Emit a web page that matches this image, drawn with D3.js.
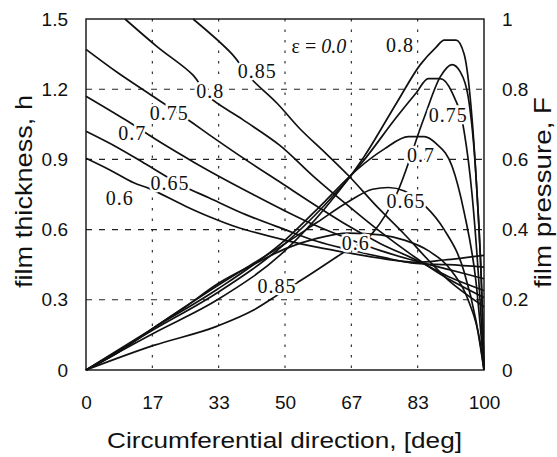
<!DOCTYPE html>
<html>
<head>
<meta charset="utf-8">
<script src="https://cdn.jsdelivr.net/npm/d3@7"></script>
<style>
  body { margin: 0; background: #fff; }
  svg { display: block; }
  .tick text { font-family: "Liberation Sans", Arial, sans-serif; font-size: 19px; fill: #111; }
  .ttl { font-family: "Liberation Sans", Arial, sans-serif; fill: #111; }
  .lbl { font-family: "Liberation Serif", "Times New Roman", serif; font-size: 20px; fill: #111;
         stroke: #fff; stroke-width: 5px; paint-order: stroke; letter-spacing: 1px; }
</style>
</head>
<body>
<svg id="chart" width="557" height="457"></svg>
<script>
// ---- data ----
var xTicks = [0, 100 / 6, 200 / 6, 50, 400 / 6, 500 / 6, 100];
var xTickLabels = ["0", "17", "33", "50", "67", "83", "100"];
var hTicks = [0, 0.3, 0.6, 0.9, 1.2, 1.5];
var fTicks = [0, 0.2, 0.4, 0.6, 0.8, 1];

// film thickness h vs circumferential direction
var thick06 = [[0, 0.905], [6, 0.855], [12, 0.80], [16, 0.775], [25, 0.70], [31, 0.655], [38, 0.61], [50, 0.555], [58, 0.525], [66, 0.50], [75, 0.475], [83, 0.46], [90, 0.47], [100, 0.49]];
var thick065 = [[0, 1.02], [8, 0.95], [15, 0.88], [24, 0.79], [31, 0.735], [40, 0.665], [50, 0.60], [58, 0.55], [66, 0.515], [75, 0.48], [83, 0.455], [91, 0.45], [100, 0.44]];
var thick07 = [[0, 1.17], [10, 1.068], [18.6, 0.974], [27.4, 0.885], [33.7, 0.825], [42, 0.75], [50, 0.68], [58, 0.615], [66, 0.56], [74, 0.51], [83, 0.465], [91, 0.43], [100, 0.39]];
var thick075 = [[0, 1.37], [8, 1.27], [16.8, 1.17], [26, 1.065], [31, 1.005], [40, 0.90], [49, 0.80], [58, 0.70], [66, 0.615], [74, 0.54], [83, 0.47], [91, 0.40], [100, 0.34]];
var thick08 = [[9.8, 1.5], [18, 1.38], [26.9, 1.26], [30.7, 1.17], [39.4, 1.07], [48.7, 0.96], [57, 0.83], [66, 0.70], [74, 0.59], [82, 0.49], [90, 0.40], [100, 0.31]];
var thick085 = [[26.9, 1.5], [36.7, 1.35], [41.2, 1.25], [48, 1.14], [53.8, 1.03], [60, 0.93], [66, 0.83], [73, 0.70], [80, 0.58], [86, 0.47], [92, 0.37], [100, 0.27]];

// film pressure F vs circumferential direction
var press06 = [[0, 0], [8, 0.05], [17, 0.12], [25, 0.18], [33, 0.245], [42, 0.30], [50, 0.345], [58, 0.375], [66, 0.39], [74, 0.385], [80, 0.37], [86, 0.34], [92, 0.28], [96, 0.2], [99, 0.08], [100, 0]];
var press065 = [[0, 0], [8, 0.05], [17, 0.12], [33, 0.24], [50, 0.36], [58, 0.42], [66, 0.48], [72, 0.515], [76, 0.52], [80, 0.51], [85, 0.47], [90, 0.40], [95, 0.28], [98, 0.14], [100, 0]];
var press07 = [[0, 0], [17, 0.12], [33, 0.23], [50, 0.37], [60, 0.48], [68, 0.57], [75, 0.63], [81, 0.665], [85, 0.665], [88, 0.645], [92, 0.58], [95, 0.45], [98, 0.25], [100, 0]];
var press075 = [[0, 0], [17, 0.115], [33, 0.22], [50, 0.36], [60, 0.47], [70, 0.60], [78, 0.72], [83, 0.79], [86, 0.83], [89, 0.83], [92, 0.79], [95, 0.68], [97, 0.5], [99, 0.2], [100, 0]];
var press08 = [[0, 0], [17, 0.105], [33, 0.20], [50, 0.34], [60, 0.46], [70, 0.61], [78, 0.76], [84, 0.87], [88, 0.92], [90, 0.94], [93, 0.94], [95, 0.90], [96.5, 0.78], [98, 0.55], [99.5, 0.2], [100, 0]];
var press085 = [[0, 0], [17, 0.07], [33, 0.125], [42, 0.17], [49, 0.22], [56, 0.27], [64, 0.33], [72, 0.39], [78, 0.50], [85, 0.72], [89, 0.835], [92, 0.87], [94, 0.85], [96, 0.78], [98, 0.55], [99.5, 0.2], [100, 0]];

// curve labels, placed at (x, h) on the left scale
var curveLabels = [
  ["0.85", 43, 1.248], ["0.8", 31.2, 1.162], ["0.75", 20.9, 1.068], ["0.7", 11.6, 0.983],
  ["0.65", 21.1, 0.769], ["0.6", 8.5, 0.705],
  ["0.8", 78.9, 1.359], ["0.75", 91, 1.06], ["0.7", 84.2, 0.889], ["0.65", 80.4, 0.692],
  ["0.6", 67.8, 0.513], ["0.85", 48, 0.329]
];

// ---- chart ----
var svg = d3.select("#chart");
var pLeft = 86, pRight = 484, pTop = 19, pBottom = 370;

var x = d3.scaleLinear().domain([0, 100]).range([pLeft, pRight]);
var yH = d3.scaleLinear().domain([0, 1.5]).range([pBottom, pTop]);
var yF = d3.scaleLinear().domain([0, 1]).range([pBottom, pTop]);

// grid
svg.append("g").selectAll("line").data(xTicks.slice(1, -1)).enter().append("line")
    .attr("x1", function(d) { return x(d); }).attr("x2", function(d) { return x(d); })
    .attr("y1", pTop).attr("y2", pBottom)
    .attr("stroke", "#222").attr("stroke-width", 1.1).attr("stroke-dasharray", "2.5,8");
svg.append("g").selectAll("line").data(hTicks.slice(1, -1)).enter().append("line")
    .attr("x1", pLeft).attr("x2", pRight)
    .attr("y1", function(d) { return yH(d); }).attr("y2", function(d) { return yH(d); })
    .attr("stroke", "#222").attr("stroke-width", 1.1).attr("stroke-dasharray", "6,7");

// axes (labels only)
var gx = svg.append("g").attr("transform", "translate(0," + pBottom + ")")
    .call(d3.axisBottom(x).tickValues(xTicks).tickSize(0).tickPadding(26)
        .tickFormat(function(d, i) { return xTickLabels[i]; }));
var gl = svg.append("g").attr("transform", "translate(" + pLeft + ",0)")
    .call(d3.axisLeft(yH).tickValues(hTicks).tickSize(0).tickPadding(18)
        .tickFormat(function(d) { return d === 0 ? "0" : d3.format(".1f")(d); }));
var gr = svg.append("g").attr("transform", "translate(" + pRight + ",0)")
    .call(d3.axisRight(yF).tickValues(fTicks).tickSize(0).tickPadding(18)
        .tickFormat(function(d) { return d === 0 || d === 1 ? String(d) : d3.format(".1f")(d); }));
[gx, gl, gr].forEach(function(g) { g.select(".domain").remove(); });

// frame
svg.append("rect").attr("x", pLeft).attr("y", pTop)
    .attr("width", pRight - pLeft).attr("height", pBottom - pTop)
    .attr("fill", "none").attr("stroke", "#111").attr("stroke-width", 1.4);

// curves
var lineH = d3.line().curve(d3.curveCatmullRom)
    .x(function(d) { return x(d[0]); }).y(function(d) { return yH(d[1]); });
var lineF = d3.line().curve(d3.curveMonotoneX)
    .x(function(d) { return x(d[0]); }).y(function(d) { return yF(d[1]); });

var curves = svg.append("g").attr("fill", "none").attr("stroke", "#111")
    .attr("stroke-width", 1.7).attr("stroke-linejoin", "round");
[thick06, thick065, thick07, thick075, thick08, thick085].forEach(function(c) {
  curves.append("path").attr("d", lineH(c));
});
[press06, press065, press07, press075, press08, press085].forEach(function(c) {
  curves.append("path").attr("d", lineF(c));
});

// curve labels (white halo cuts the lines like the original)
svg.append("g").selectAll("text").data(curveLabels).enter().append("text")
    .attr("class", "lbl").attr("text-anchor", "middle")
    .attr("x", function(d) { return x(d[1]); })
    .attr("y", function(d) { return yH(d[2]); })
    .text(function(d) { return d[0]; });

var eps = svg.append("text").attr("class", "lbl").attr("text-anchor", "middle")
    .attr("x", x(58.5)).attr("y", yH(1.355)).style("letter-spacing", "0px");
eps.append("tspan").text("\u03b5 = ");
eps.append("tspan").attr("font-style", "italic").text("0.0");

// axis titles
svg.append("text").attr("class", "ttl").attr("font-size", 22)
    .attr("x", 107).attr("y", 448)
    .attr("textLength", 355).attr("lengthAdjust", "spacingAndGlyphs")
    .text("Circumferential direction, [deg]");
svg.append("text").attr("class", "ttl").attr("font-size", 24)
    .attr("transform", "translate(32,288) rotate(-90)")
    .attr("textLength", 193).attr("lengthAdjust", "spacingAndGlyphs")
    .text("film thickness, h");
svg.append("text").attr("class", "ttl").attr("font-size", 24)
    .attr("transform", "translate(551,288) rotate(-90)")
    .attr("textLength", 191).attr("lengthAdjust", "spacingAndGlyphs")
    .text("film pressure, F");
</script>
</body>
</html>
